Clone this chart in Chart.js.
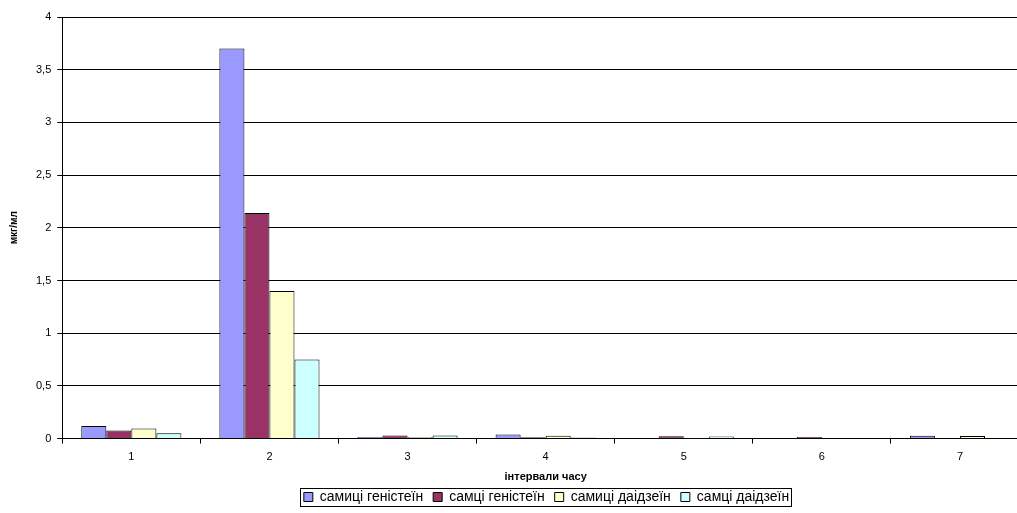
<!DOCTYPE html>
<html>
<head>
<meta charset="utf-8">
<script src="https://cdn.jsdelivr.net/npm/chart.js@4/dist/chart.umd.min.js"></script>
<style>
html,body{margin:0;padding:0;background:#fff;overflow:hidden;width:1017px;height:513px;}
canvas{display:block;}
</style>
</head>
<body>
<canvas id="c" width="1092" height="513"></canvas>
<script>
const categories = ['1','2','3','4','5','6','7'];
const seriesNames = ['самиці геністеїн','самці геністеїн','самиці даідзеїн','самці даідзеїн'];
const femaleGenistein = [0.12, 3.70, 0.016, 0.038, 0.005, 0.005, 0.028];
const maleGenistein   = [0.076, 2.14, 0.03, 0.012, 0.022, 0.015, 0.005];
const femaleDaidzein  = [0.095, 1.40, 0.016, 0.028, 0.004, 0.005, 0.025];
const maleDaidzein    = [0.05, 0.75, 0.03, 0.01, 0.02, 0.005, 0.006];
const colors = ['#9999FF','#993366','#FFFFCC','#CCFFFF'];
const yTitle = 'мкг/мл';
const xTitle = 'інтервали часу';

Chart.defaults.font.family = '"Liberation Sans", Arial, sans-serif';
Chart.defaults.font.size = 11;
Chart.defaults.color = '#000';

const legendTweak = {
  id: 'legendTweak',
  beforeLayout(chart) {
    const lg = chart.legend;
    if (lg && !lg._patched) {
      const f = lg.fit.bind(lg);
      lg.fit = function () { f(); this.height -= 5; };
      lg._patched = true;
    }
  },
  afterLayout(chart) {
    const lg = chart.legend;
    if (!lg) return;
    lg.left += 30; lg.right += 30;
    lg.top -= 4; lg.bottom -= 4;
  },
  afterDraw(chart) {
    const hb = chart.legend && chart.legend.legendHitBoxes;
    if (!hb || !hb.length) return;
    let l = Infinity, r = -Infinity, t = Infinity, b = -Infinity;
    hb.forEach(h => { l = Math.min(l, h.left); r = Math.max(r, h.left + h.width); t = Math.min(t, h.top); b = Math.max(b, h.top + h.height); });
    const ctx = chart.ctx;
    ctx.save();
    ctx.strokeStyle = '#000';
    ctx.lineWidth = 1;
    ctx.strokeRect(Math.round(l - 4) + 0.5, Math.round(t - 2) + 0.5, Math.round(r - l + 6), Math.round(b - t + 4));
    ctx.restore();
  }
};

const values = [femaleGenistein, maleGenistein, femaleDaidzein, maleDaidzein];
new Chart(document.getElementById('c'), {
  type: 'bar',
  data: {
    labels: categories,
    datasets: seriesNames.map((n, i) => ({
      label: n,
      data: values[i],
      backgroundColor: colors[i],
      borderColor: '#000',
      borderWidth: 1,
      borderSkipped: 'bottom',
      categoryPercentage: 0.725,
      barPercentage: 1
    }))
  },
  options: {
    responsive: false,
    animation: false,
    layout: { padding: { top: 17, right: 63, left: 4, bottom: 0 } },
    plugins: {
      legend: {
        position: 'bottom',
        labels: { boxWidth: 9, boxHeight: 9, padding: 10, font: { size: 14 }, color: '#000' }
      },
      tooltip: { enabled: false }
    },
    scales: {
      x: {
        grid: { display: true, drawOnChartArea: false, color: '#000', tickLength: 5, offset: true },
        border: { color: '#000', width: 1 },
        ticks: { padding: 7 },
        title: { display: true, text: xTitle, font: { weight: 'bold', size: 11 }, padding: { top: 0, bottom: 0 } }
      },
      y: {
        min: 0, max: 4,
        ticks: { stepSize: 0.5, padding: 6, callback: v => String(v).replace('.', ',') },
        grid: { color: '#000', tickLength: 5 },
        border: { color: '#000', width: 1 },
        title: { display: true, text: yTitle, font: { weight: 'bold', size: 10 }, padding: { bottom: 10 } }
      }
    }
  },
  plugins: [legendTweak]
});
</script>
</body>
</html>
